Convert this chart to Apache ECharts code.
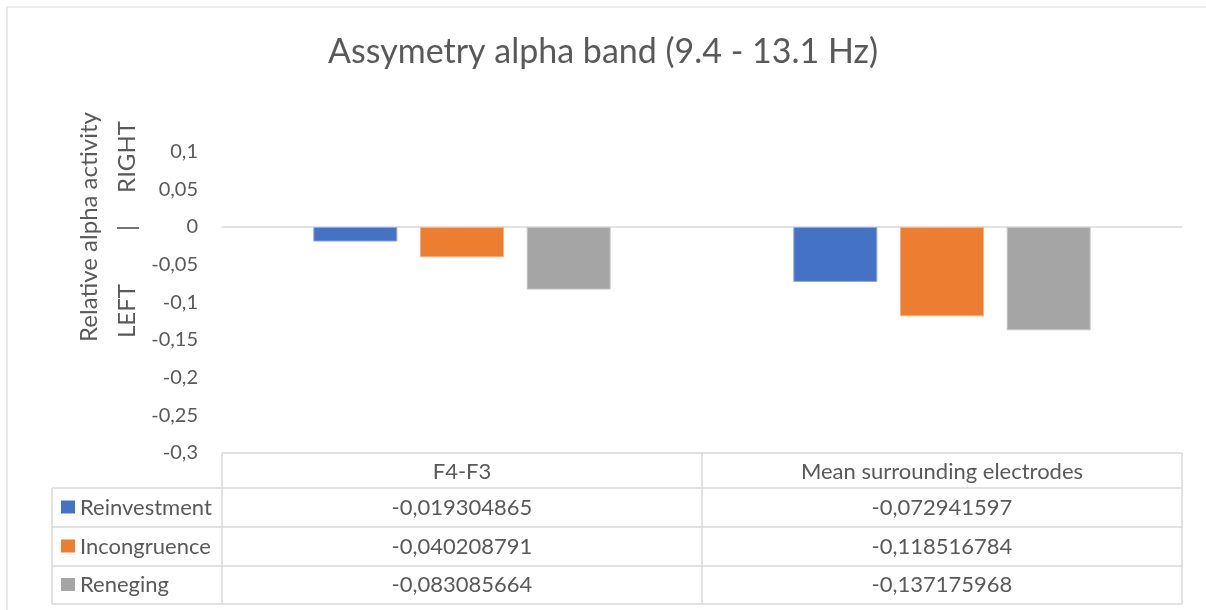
<!DOCTYPE html>
<html>
<head>
<meta charset="utf-8">
<script src="https://cdn.jsdelivr.net/npm/echarts@6/dist/echarts.min.js"></script>
<style>
  html, body { margin: 0; padding: 0; background: #fff; }
  #chart { width: 1206px; height: 610px; }
</style>
</head>
<body>
<div id="chart"></div>
<script>
// Electrode pairs (columns of the data table)
const categories = ['F4-F3', 'Mean surrounding electrodes'];
// Conditions (rows of the data table)
const seriesNames = ['Reinvestment', 'Incongruence', 'Reneging'];
const reinvestment = [-0.019304865, -0.072941597];
const incongruence = [-0.040208791, -0.118516784];
const reneging = [-0.083085664, -0.137175968];
const seriesValues = [reinvestment, incongruence, reneging];
const colors = ['#4472C4', '#ED7D31', '#A5A5A5'];
const borders = ['#8FAADC', '#F4B183', '#C9C9C9'];

const FONT = 'Lato';
const TXT = '#595959';
const LINE = '#D9D9D9';

const fmtComma = v => String(v).replace('.', ',');
const fmtTick = v => fmtComma(Math.round(v * 100) / 100);

const gridLeft = 222, gridRight = 24, gridTop = 151.7, gridBottom = 157;

const chart = echarts.init(document.getElementById('chart'), null, { renderer: 'canvas' });

chart.setOption({
  backgroundColor: '#fff',
  animation: false,
  title: {
    text: 'Assymetry alpha band (9.4 - 13.1 Hz)',
    left: 'center',
    top: 30,
    textStyle: { fontFamily: FONT, fontSize: 34, fontWeight: 'normal', color: TXT }
  },
  grid: { left: gridLeft, right: gridRight, top: gridTop, bottom: gridBottom, containLabel: false },
  xAxis: {
    type: 'category',
    data: categories,
    axisLine: { onZero: true, lineStyle: { color: LINE, width: 1.5 } },
    axisTick: { show: false },
    axisLabel: { show: false },
    splitLine: { show: false }
  },
  yAxis: {
    type: 'value',
    min: -0.3,
    max: 0.1,
    interval: 0.05,
    axisLine: { show: false },
    axisTick: { show: false },
    splitLine: { show: false },
    axisLabel: {
      formatter: fmtTick,
      fontFamily: FONT,
      fontSize: 20,
      color: TXT,
      margin: 24
    }
  },
  series: seriesNames.map((name, i) => ({
    name,
    type: 'bar',
    data: seriesValues[i],
    barWidth: 84,
    barGap: '27%',
    itemStyle: { color: colors[i], borderColor: borders[i], borderWidth: 1 }
  }))
});

// Data table under the plot, plus axis title and outer frame
function drawExtras() {
  const top = 453;
  const rowH = [35, 39, 39, 38];
  const left = gridLeft, right = 1206 - gridRight, keyLeft = 52;
  const mid = (left + right) / 2;
  const rows = [top];
  rowH.forEach(h => rows.push(rows[rows.length - 1] + h));
  const colX = categories.map(c => chart.convertToPixel({ xAxisIndex: 0 }, c));
  const g = [];
  const ls = { stroke: LINE, lineWidth: 1.5 };
  const tableFont = '22px ' + FONT;

  // frame
  g.push({ type: 'rect', shape: { x: 7, y: 7, width: 1220, height: 620 }, style: { fill: null, stroke: LINE, lineWidth: 1.2 }, silent: true });

  // horizontal rules
  g.push({ type: 'line', shape: { x1: left, y1: rows[0], x2: right, y2: rows[0] }, style: ls });
  for (let r = 1; r < rows.length; r++) {
    g.push({ type: 'line', shape: { x1: keyLeft, y1: rows[r], x2: right, y2: rows[r] }, style: ls });
  }
  // vertical rules
  [left, mid, right].forEach(x => g.push({ type: 'line', shape: { x1: x, y1: rows[0], x2: x, y2: rows[4] }, style: ls }));
  g.push({ type: 'line', shape: { x1: keyLeft, y1: rows[1], x2: keyLeft, y2: rows[4] }, style: ls });

  // header
  categories.forEach((c, i) => g.push({
    type: 'text', x: colX[i], y: (rows[0] + rows[1]) / 2 + 1,
    style: { text: c, fill: TXT, font: tableFont, textAlign: 'center', textVerticalAlign: 'middle' }
  }));

  // rows
  seriesNames.forEach((name, r) => {
    const cy = (rows[r + 1] + rows[r + 2]) / 2;
    g.push({ type: 'rect', shape: { x: 61, y: cy - 7, width: 14, height: 13 }, style: { fill: colors[r] } });
    g.push({ type: 'text', x: 80, y: cy, style: { text: name, fill: TXT, font: tableFont, textAlign: 'left', textVerticalAlign: 'middle' } });
    seriesValues[r].forEach((v, c) => g.push({
      type: 'text', x: colX[c], y: cy,
      style: { text: v.toFixed(9).replace('.', ','), fill: TXT, font: tableFont, textAlign: 'center', textVerticalAlign: 'middle' }
    }));
  });

  // vertical axis title (two lines)
  const y0 = chart.convertToPixel({ yAxisIndex: 0 }, 0);
  const vt = (text, x, y) => ({
    type: 'text', x, y, rotation: Math.PI / 2,
    style: { text, fill: TXT, font: '24px ' + FONT, textAlign: 'center', textVerticalAlign: 'middle' }
  });
  g.push(vt('Relative alpha activity', 89, y0));
  g.push(vt('LEFT', 127, 311));
  g.push(vt('|', 127, y0 + 1));
  g.push(vt('RIGHT', 127, 157));

  chart.setOption({ graphic: g });
}
drawExtras();
</script>
</body>
</html>
